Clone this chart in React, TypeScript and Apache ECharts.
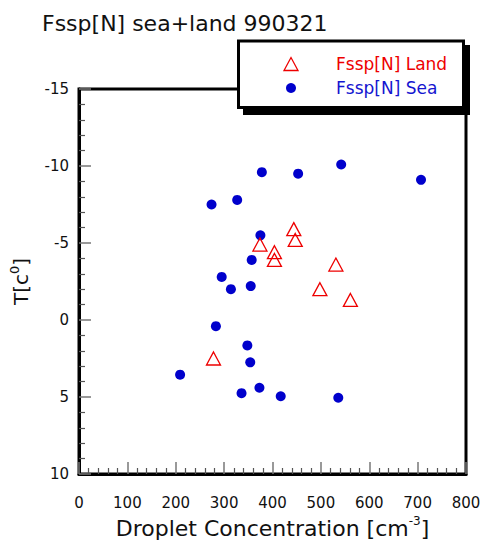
import React, { useEffect, useRef } from "react";
import * as echarts from "echarts";

const titleText = "Fssp[N] sea+land 990321";
const landName = "Fssp[N] Land";
const seaName = "Fssp[N] Sea";

// [droplet concentration (cm^-3), temperature (°C)]
const landPoints: number[][] = [
  [444, -5.9],
  [447, -5.2],
  [374, -4.9],
  [404, -4.4],
  [404, -3.9],
  [531, -3.6],
  [498, -2.0],
  [561, -1.3],
  [278, 2.5],
];

const seaPoints: number[][] = [
  [378, -9.6],
  [453, -9.5],
  [542, -10.1],
  [707, -9.1],
  [274, -7.5],
  [327, -7.8],
  [375, -5.5],
  [357, -3.9],
  [295, -2.8],
  [314, -2.0],
  [355, -2.2],
  [283, 0.4],
  [348, 1.65],
  [354, 2.75],
  [209, 3.55],
  [336, 4.75],
  [373, 4.4],
  [417, 4.95],
  [536, 5.05],
];

const xMin = 0;
const xMax = 800;
const xInterval = 100;
const yMin = -15;
const yMax = 10;
const yInterval = 5;

const FONT = "DejaVu Sans";
const RED = "#EE0000";
const BLUE = "#0000CC";

export default function App() {
  const ref = useRef<HTMLDivElement>(null);
  useEffect(() => {
    if (!ref.current) return;
    const chart = echarts.init(ref.current, null, { renderer: "svg" });
    chart.setOption({
      animation: false,
      backgroundColor: "#ffffff",
      grid: {
        left: 79,
        top: 89,
        right: 14,
        bottom: 69,
        containLabel: false,
        outerBoundsMode: "none",
        show: true,
        borderWidth: 3,
        borderColor: "#000",
        backgroundColor: "transparent",
      },
      xAxis: {
        type: "value",
        min: xMin,
        max: xMax,
        interval: xInterval,
        name: "Droplet Concentration [cm{sup|-3}]",
        nameLocation: "middle",
        nameGap: 41,
        nameTextStyle: {
          fontFamily: FONT,
          fontSize: 22,
          color: "#111",
          lineHeight: 26,
          rich: {
            sup: { fontFamily: FONT, fontSize: 12, color: "#111", verticalAlign: "top", lineHeight: 12 },
          },
        },
        axisLine: { show: true, onZero: false, lineStyle: { color: "#000", width: 3 } },
        axisTick: { show: true, inside: true, length: 12, lineStyle: { color: "#777", width: 1.5 } },
        minorTick: { show: true, splitNumber: 5, length: 6, lineStyle: { color: "#555", width: 1.2 } },
        splitLine: { show: false },
        axisLabel: { fontFamily: FONT, fontSize: 15, color: "#111", margin: 21, hideOverlap: false },
      },
      yAxis: {
        type: "value",
        inverse: true,
        min: yMin,
        max: yMax,
        interval: yInterval,
        name: "T[c{sup|0}]",
        nameLocation: "middle",
        nameRotate: 90,
        nameGap: 40,
        nameTextStyle: {
          fontFamily: FONT,
          fontSize: 20,
          color: "#111",
          lineHeight: 26,
          rich: {
            sup: { fontFamily: FONT, fontSize: 13, color: "#111", verticalAlign: "top", lineHeight: 13 },
          },
        },
        axisLine: { show: true, onZero: false, lineStyle: { color: "#000", width: 3 } },
        axisTick: { show: true, inside: true, length: 12, lineStyle: { color: "#777", width: 1.5 } },
        minorTick: { show: true, splitNumber: 5, length: 6, lineStyle: { color: "#555", width: 1.2 } },
        splitLine: { show: false },
        axisLabel: { fontFamily: FONT, fontSize: 15, color: "#111", margin: 10, hideOverlap: false },
      },
      series: [
        {
          name: seaName,
          type: "scatter",
          data: seaPoints,
          symbol: "circle",
          symbolSize: 10,
          itemStyle: { color: BLUE, opacity: 1 },
          z: 3,
        },
        {
          name: landName,
          type: "scatter",
          data: landPoints,
          symbol: "triangle",
          symbolSize: [14, 13],
          itemStyle: { color: "rgba(255,255,255,0)", borderColor: RED, borderWidth: 1.3, opacity: 1 },
          z: 4,
        },
      ],
      graphic: [
        {
          type: "text",
          left: 42,
          top: 12,
          z: 10,
          style: { text: titleText, fontFamily: FONT, fontSize: 22, fill: "#111" },
        },
        {
          type: "rect",
          z: 20,
          shape: { x: 243, y: 45, width: 227, height: 70 },
          style: { fill: "#000" },
        },
        {
          type: "rect",
          z: 21,
          shape: { x: 238.5, y: 41, width: 225, height: 66.5 },
          style: { fill: "#fff", stroke: "#000", lineWidth: 3 },
        },
        {
          type: "polygon",
          z: 22,
          shape: { points: [[284, 70.5], [298, 70.5], [291, 57.5]] },
          style: { fill: "none", stroke: RED, lineWidth: 1.3 },
        },
        {
          type: "circle",
          z: 22,
          shape: { cx: 291, cy: 88, r: 5 },
          style: { fill: BLUE },
        },
        {
          type: "text",
          z: 22,
          x: 336,
          y: 64,
          style: { text: landName, fontFamily: FONT, fontSize: 17, fill: RED, verticalAlign: "middle" },
        },
        {
          type: "text",
          z: 22,
          x: 336,
          y: 88,
          style: { text: seaName, fontFamily: FONT, fontSize: 17, fill: "#1515D0", verticalAlign: "middle" },
        },
      ],
    });
    return () => chart.dispose();
  }, []);
  return (
    <div
      ref={ref}
      style={{ position: "fixed", left: 0, top: 0, width: 480, height: 543, background: "#fff" }}
    />
  );
}
